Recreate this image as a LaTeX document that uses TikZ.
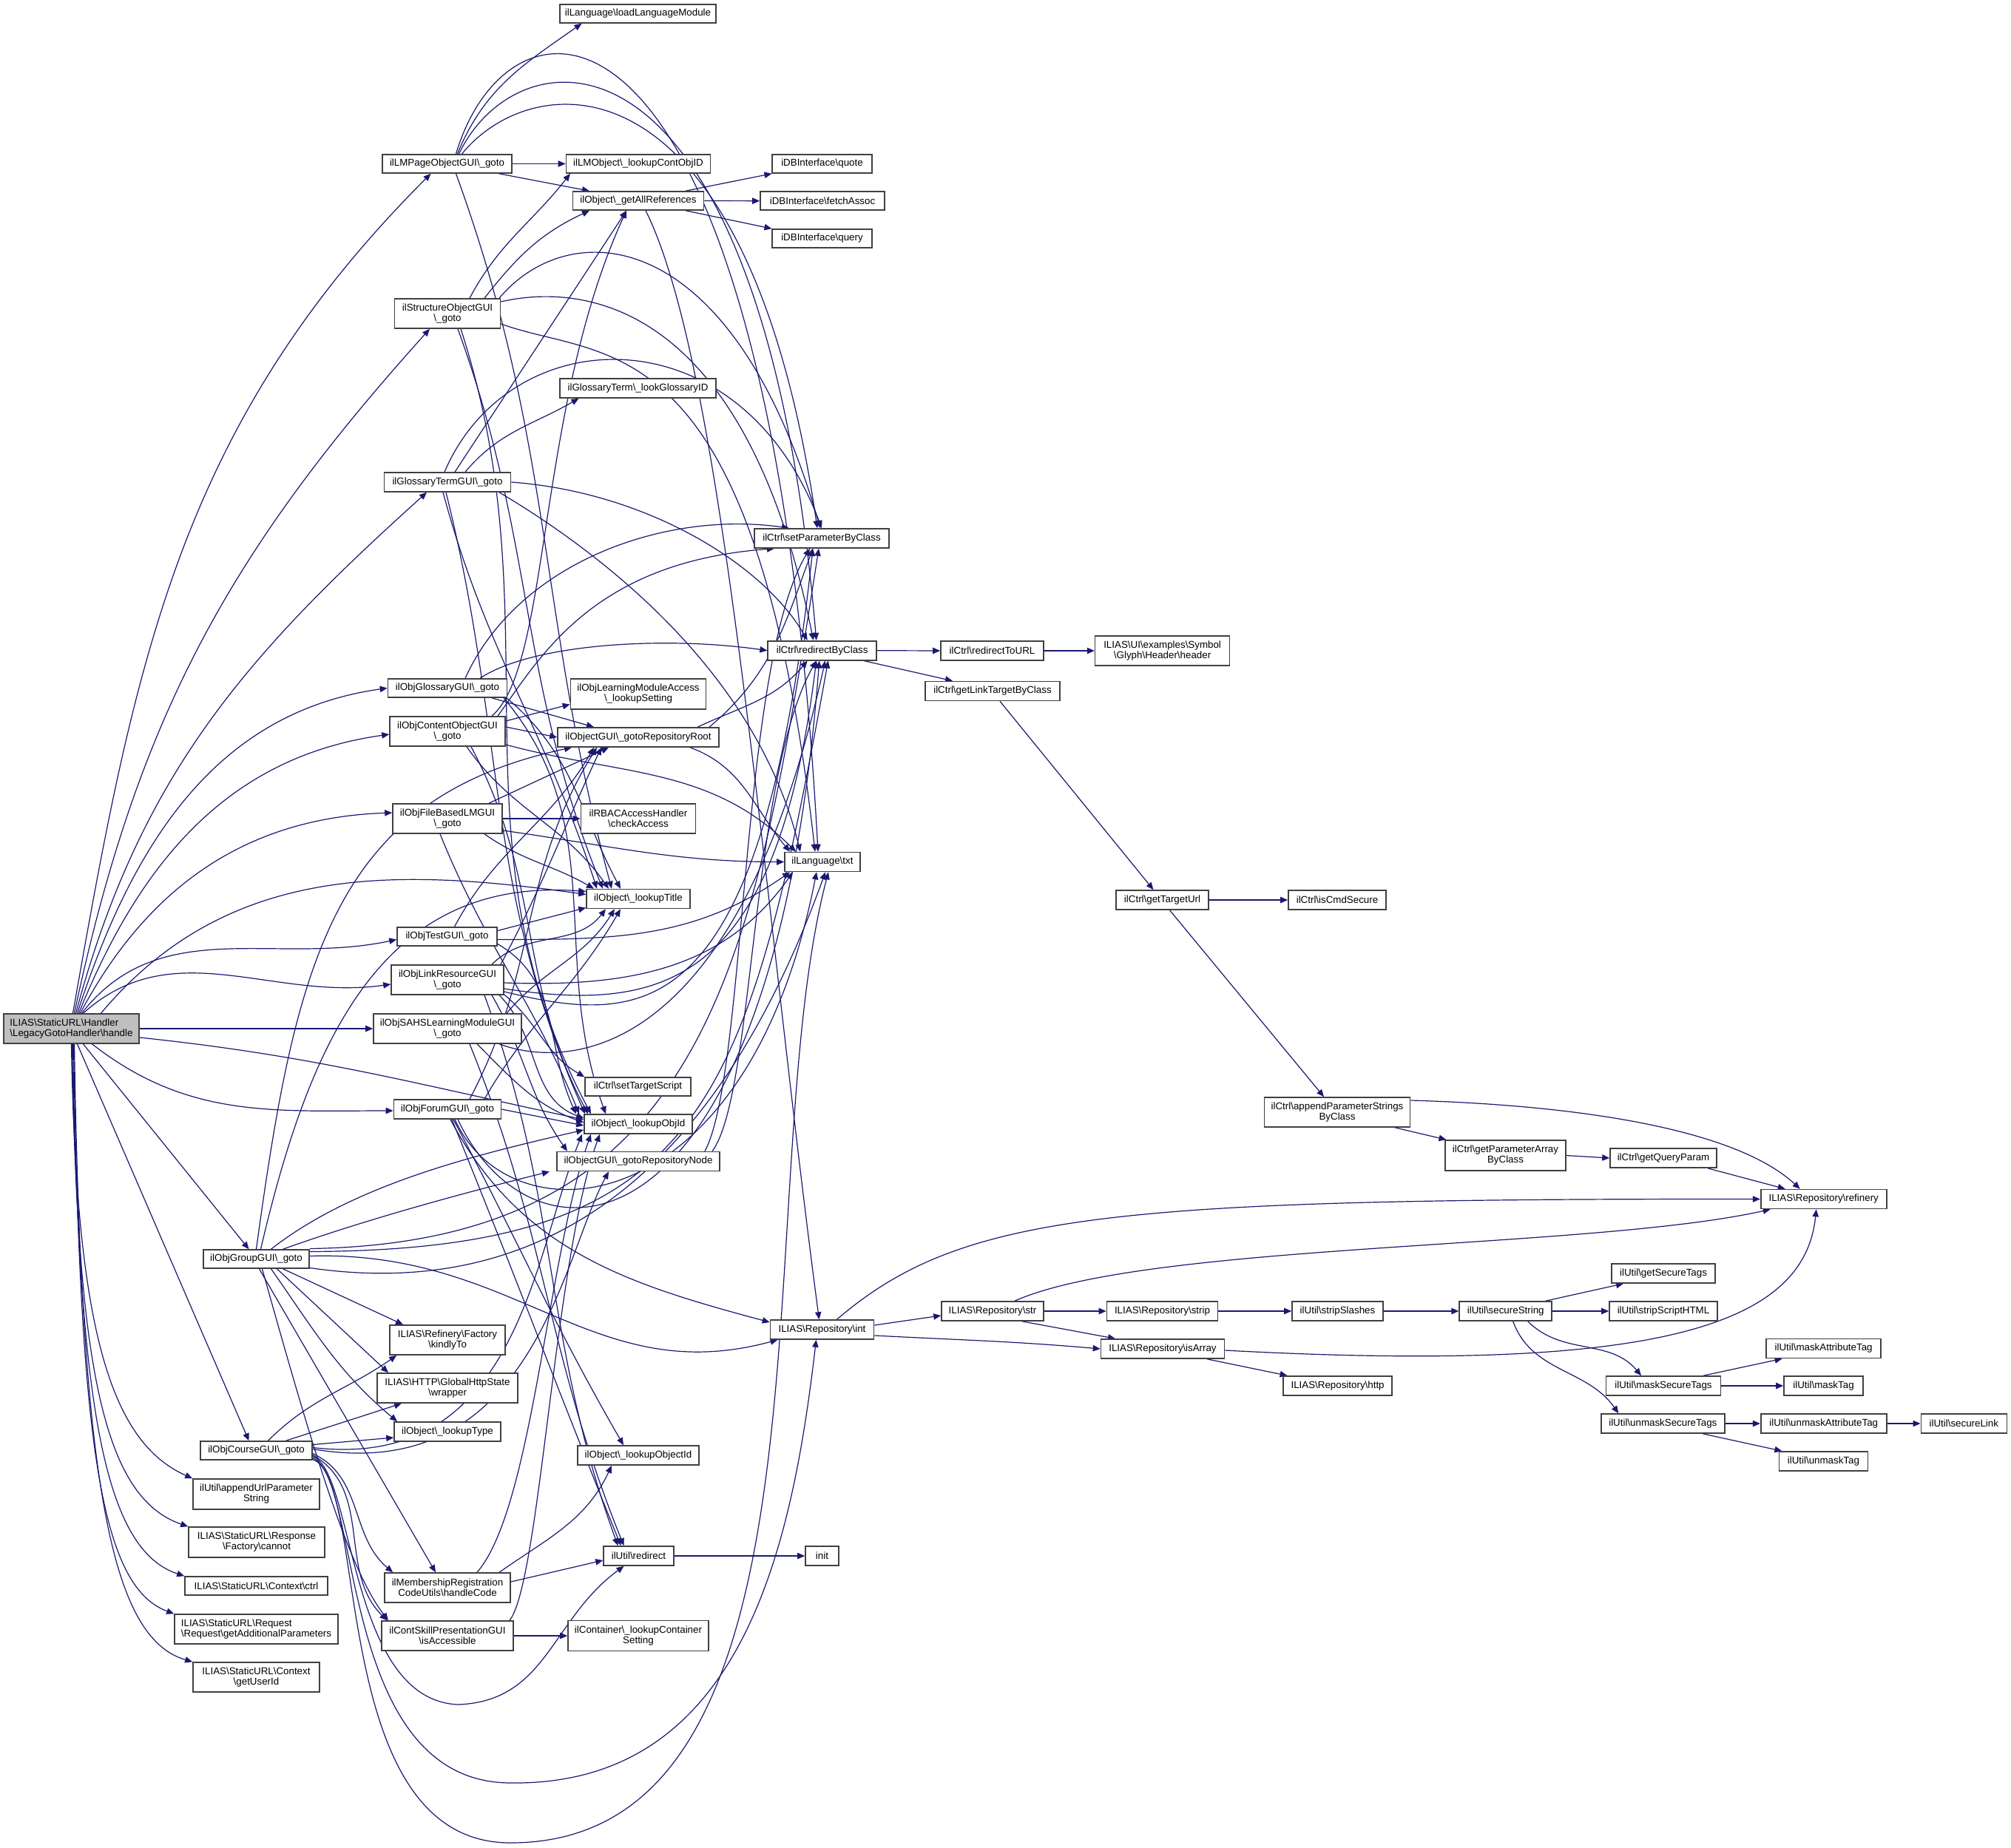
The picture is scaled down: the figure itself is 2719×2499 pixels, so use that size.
\documentclass[tikz,border=0pt]{standalone}
\usepackage{fontspec}
\newfontfamily\dfont{Liberation Sans}
\usetikzlibrary{arrows.meta}
\definecolor{edgeblue}{HTML}{191970}
\newcommand{\bs}{\textbackslash}
\pgfdeclarelayer{bg}
\pgfsetlayers{bg,main}
\tikzset{
  nd/.style 2 args={draw=black!75, line width=0.8pt, fill=white, minimum width=#1*0.5pt, minimum height=#2*0.5pt, inner sep=0pt, font=\dfont\fontsize{6.67}{7}\selectfont, align=center},
  e/.style={draw=edgeblue, line width=0.6pt, -{Triangle[length=5pt,width=4.2pt]}},
}
\begin{document}
\begin{tikzpicture}[x=0.5pt,y=-0.5pt]
\useasboundingbox (0,0) rectangle (2719,2499);
% ---------- nodes ----------
\node[nd={183}{40}, fill=gray!50, align=left] (h) at (96.5,1391) {ILIAS\bs StaticURL\bs Handler\\\bs LegacyGotoHandler\bs handle};
\node[nd={175}{25}] (lmp) at (604.5,221.5) {ilLMPageObjectGUI\bs\_goto};
\node[nd={143}{40}] (sog) at (605,424) {ilStructureObjectGUI\\\bs\_goto};
\node[nd={171}{26}] (gtg) at (605,652) {ilGlossaryTermGUI\bs\_goto};
\node[nd={161}{25}] (ogg) at (605,930.5) {ilObjGlossaryGUI\bs\_goto};
\node[nd={156}{40}] (cog) at (605,989) {ilObjContentObjectGUI\\\bs\_goto};
\node[nd={148}{40}] (fbg) at (605,1107) {ilObjFileBasedLMGUI\\\bs\_goto};
\node[nd={135}{25}] (tst) at (604.5,1266.5) {ilObjTestGUI\bs\_goto};
\node[nd={152}{40}] (lrg) at (605,1325) {ilObjLinkResourceGUI\\\bs\_goto};
\node[nd={200}{40}] (sah) at (605,1391) {ilObjSAHSLearningModuleGUI\\\bs\_goto};
\node[nd={145}{26}] (frm) at (605,1500) {ilObjForumGUI\bs\_goto};
\node[nd={156}{40}] (kin) at (605,1812) {ILIAS\bs Refinery\bs Factory\\\bs kindlyTo};
\node[nd={190}{40}] (wrp) at (605,1877) {ILIAS\bs HTTP\bs GlobalHttpState\\\bs wrapper};
\node[nd={144}{26}] (lty) at (605,1936) {ilObject\bs\_lookupType};
\node[nd={170}{40}] (hcd) at (605,2147) {ilMembershipRegistration\\CodeUtils\bs handleCode};
\node[nd={178}{40}] (csp) at (605,2212) {ilContSkillPresentationGUI\\\bs isAccessible};
\node[nd={143}{25}] (grp) at (346.5,1702.5) {ilObjGroupGUI\bs\_goto};
\node[nd={151}{25}] (crs) at (346.5,1961.5) {ilObjCourseGUI\bs\_goto};
\node[nd={171}{41}] (aup) at (346.5,2020.5) {ilUtil\bs appendUrlParameter\\String};
\node[nd={184}{41}] (cnt) at (347,2085.5) {ILIAS\bs StaticURL\bs Response\\\bs Factory\bs cannot};
\node[nd={193}{25}] (ctl) at (346.5,2144.5) {ILIAS\bs StaticURL\bs Context\bs ctrl};
\node[nd={221}{40}, align=left] (rqa) at (346.5,2203) {ILIAS\bs StaticURL\bs Request\\\bs Request\bs getAdditionalParameters};
\node[nd={171}{40}] (uid) at (346.5,2268) {ILIAS\bs StaticURL\bs Context\\\bs getUserId};
\node[nd={211}{25}] (llm) at (862.5,18.5) {ilLanguage\bs loadLanguageModule};
\node[nd={195}{25}] (lco) at (863,221.5) {ilLMObject\bs\_lookupContObjID};
\node[nd={177}{25}] (gar) at (863,271.5) {ilObject\bs\_getAllReferences};
\node[nd={211}{26}] (lgi) at (862.5,525) {ilGlossaryTerm\bs\_lookGlossaryID};
\node[nd={183}{41}] (lms) at (863,938.5) {ilObjLearningModuleAccess\\\bs\_lookupSetting};
\node[nd={218}{26}] (grr) at (863,997) {ilObjectGUI\bs\_gotoRepositoryRoot};
\node[nd={155}{40}] (rba) at (863,1107) {ilRBACAccessHandler\\\bs checkAccess};
\node[nd={140}{26}] (ltt) at (863,1215.5) {ilObject\bs\_lookupTitle};
\node[nd={143}{25}] (sts) at (862.5,1469.5) {ilCtrl\bs setTargetScript};
\node[nd={146}{26}] (loi) at (863,1520) {ilObject\bs\_lookupObjId};
\node[nd={220}{26}] (grn) at (863,1570.5) {ilObjectGUI\bs\_gotoRepositoryNode};
\node[nd={164}{26}] (lob) at (863,1968) {ilObject\bs\_lookupObjectId};
\node[nd={95}{26}] (rdr) at (863.5,2104) {ilUtil\bs redirect};
\node[nd={190}{41}] (lcs) at (863,2212) {ilContainer\bs\_lookupContainer\\Setting};
\node[nd={135}{25}] (quo) at (1111.5,221.5) {iDBInterface\bs quote};
\node[nd={168}{25}] (fas) at (1112,271.7) {iDBInterface\bs fetchAssoc};
\node[nd={135}{25}] (qry) at (1111.5,322.5) {iDBInterface\bs query};
\node[nd={182}{26}] (spc) at (1111,728) {ilCtrl\bs setParameterByClass};
\node[nd={147}{26}] (rbc) at (1111.7,879.7) {ilCtrl\bs redirectByClass};
\node[nd={102}{26}] (txt) at (1112,1165.5) {ilLanguage\bs txt};
\node[nd={140}{26}] (int) at (1111.5,1798) {ILIAS\bs Repository\bs int};
\node[nd={45}{26}] (ini) at (1111.5,2104) {init};
\node[nd={139}{26}] (rtu) at (1341.5,880) {ilCtrl\bs redirectToURL};
\node[nd={182}{26}] (glt) at (1342,934.5) {ilCtrl\bs getLinkTargetByClass};
\node[nd={138}{26}] (str) at (1342,1773) {ILIAS\bs Repository\bs str};
\node[nd={182}{40}] (hdr) at (1571.6,880) {ILIAS\bs UI\bs examples\bs Symbol\\\bs Glyph\bs Header\bs header};
\node[nd={125}{26}] (gtu) at (1571.5,1217) {ilCtrl\bs getTargetUrl};
\node[nd={150}{26}] (stp) at (1571.5,1773) {ILIAS\bs Repository\bs strip};
\node[nd={167}{26}] (isa) at (1572,1824) {ILIAS\bs Repository\bs isArray};
\node[nd={132}{26}] (ics) at (1808,1217) {ilCtrl\bs isCmdSecure};
\node[nd={197}{40}] (aps) at (1808,1504) {ilCtrl\bs appendParameterStrings\\ByClass};
\node[nd={123}{26}] (ssl) at (1808.5,1773) {ilUtil\bs stripSlashes};
\node[nd={147}{26}] (htp) at (1808.6,1874) {ILIAS\bs Repository\bs http};
\node[nd={163}{41}] (gpa) at (2035.5,1562.5) {ilCtrl\bs getParameterArray\\ByClass};
\node[nd={125}{26}] (sst) at (2035.7,1773) {ilUtil\bs secureString};
\node[nd={144}{26}] (gqp) at (2249,1566) {ilCtrl\bs getQueryParam};
\node[nd={140}{26}] (gst) at (2249,1722) {ilUtil\bs getSecureTags};
\node[nd={146}{26}] (ssh) at (2249,1773) {ilUtil\bs stripScriptHTML};
\node[nd={155}{26}] (mst) at (2249,1874) {ilUtil\bs maskSecureTags};
\node[nd={167}{26}] (ust) at (2248.3,1925) {ilUtil\bs unmaskSecureTags};
\node[nd={170}{26}] (ref) at (2465.7,1621.5) {ILIAS\bs Repository\bs refinery};
\node[nd={155}{26}] (mat) at (2465.6,1823.5) {ilUtil\bs maskAttributeTag};
\node[nd={107}{26}] (mtg) at (2465.5,1874) {ilUtil\bs maskTag};
\node[nd={170}{26}] (uat) at (2465.7,1925) {ilUtil\bs unmaskAttributeTag};
\node[nd={120}{26}] (utg) at (2465.4,1976) {ilUtil\bs unmaskTag};
\node[nd={116}{26}] (slk) at (2655.3,1925) {ilUtil\bs secureLink};
% ---------- edges ----------
\begin{pgfonlayer}{bg}
\fill[white] (0,0) rectangle (2719,2499);
% handle
\draw[e] ([xshift=1pt]h.north) to[out=80,in=225] ([xshift=-11pt]lmp.south);
\draw[e] ([xshift=2pt]h.north) to[out=78,in=228] ([xshift=-12pt]sog.south);
\draw[e] ([xshift=3pt]h.north) to[out=75,in=222] ([xshift=-14pt]gtg.south);
\draw[e] ([xshift=4pt]h.north) to[out=72,in=188] (ogg.west);
\draw[e] ([xshift=5pt]h.north) to[out=68,in=188] ([yshift=-2pt]cog.west);
\draw[e] ([xshift=6pt]h.north) to[out=62,in=182] ([yshift=4pt]fbg.west);
\draw[e] ([xshift=7pt]h.north) to[out=52,in=192] ([yshift=-2pt]tst.west);
\draw[e] ([xshift=8pt]h.north) to[out=42,in=188] ([yshift=-3pt]lrg.west);
\draw[e] ([xshift=20pt]h.north) to[out=50,in=172] ([yshift=3pt]ltt.west);
\draw[e] (h.east) -- (sah.west);
\draw[e] ([yshift=-6pt]h.east) to[out=-6,in=168] ([yshift=3pt]loi.west);
\draw[e] ([xshift=14pt]h.south) to[out=-38,in=180] ([yshift=-1pt]frm.west);
\draw[e] ([xshift=8pt]h.south) -- ([xshift=-5pt]grp.north);
\draw[e] ([xshift=4pt]h.south) -- ([xshift=-5pt]crs.north);
\draw[e] ([xshift=0pt]h.south) .. controls (103,1800) and (150,1950) .. (aup.north west);
\draw[e] ([xshift=0.5pt]h.south) .. controls (104,1850) and (140,2025) .. (cnt.north west);
\draw[e] ([xshift=1pt]h.south) .. controls (106,1900) and (140,2095) .. (ctl.north west);
\draw[e] ([xshift=1.5pt]h.south) .. controls (108,1950) and (135,2145) .. (rqa.north west);
\draw[e] ([xshift=2pt]h.south) .. controls (110,2010) and (150,2215) .. (uid.north west);
% LMPage
\draw[e] ([xshift=7pt]lmp.north) to[out=68,in=215] ([xshift=-38pt]llm.south);
\draw[e] (lmp.east) -- (lco.west);
\draw[e] ([xshift=35pt]lmp.south) -- ([xshift=-33pt]gar.north);
\draw[e] ([xshift=10pt]lmp.north) .. controls (720,90) and (1010,60) .. ([xshift=-3pt]spc.north);
\draw[e] ([xshift=8pt]lmp.north) .. controls (700,40) and (1030,0) .. ([xshift=-4pt]rbc.north);
\draw[e] ([xshift=6pt]lmp.north) .. controls (690,-40) and (1040,-60) .. ([xshift=-3pt]txt.north);
\draw[e] ([xshift=6pt]lmp.south) to[out=-70,in=105] ([xshift=-18pt]ltt.north);
% Structure
\draw[e] ([xshift=15pt]sog.north) to[out=62,in=232] ([xshift=-46pt]lco.south);
\draw[e] ([xshift=25pt]sog.north) to[out=52,in=205] ([xshift=-33pt]gar.south);
\draw[e] ([xshift=35pt]sog.north) .. controls (770,290) and (990,300) .. ([xshift=-1pt]spc.north);
\draw[e] ([yshift=8pt]sog.east) .. controls (800,380) and (1010,420) .. ([xshift=-6pt]rbc.north);
\draw[e] ([yshift=-7pt]sog.east) .. controls (820,490) and (1020,430) .. ([xshift=-5pt]txt.north);
\draw[e] ([xshift=7pt]sog.south) to[out=-70,in=112] ([xshift=-24pt]ltt.north);
\draw[e] ([xshift=9pt]sog.south) to[out=-72,in=118] ([xshift=-32pt]loi.north);
% GlossaryTerm
\draw[e] ([xshift=12pt]gtg.north) to[out=50,in=210] ([xshift=-40pt]lgi.south);
\draw[e] ([xshift=5pt]gtg.north) -- ([xshift=-8pt]gar.south);
\draw[e] ([xshift=-2pt]gtg.north) .. controls (690,430) and (1000,420) .. (spc.north);
\draw[e] (gtg.east) .. controls (870,665) and (1030,760) .. ([xshift=-10pt]rbc.north);
\draw[e] ([xshift=35pt]gtg.south) .. controls (800,740) and (1020,900) .. ([xshift=-15pt]txt.north);
\draw[e] ([xshift=-3pt]gtg.south) to[out=-75,in=108] ([xshift=-28pt]ltt.north);
\draw[e] ([xshift=-1pt]gtg.south) to[out=-76,in=114] ([xshift=-36pt]loi.north);
% ObjGlossary
\draw[e] ([xshift=12pt]ogg.north) .. controls (700,760) and (900,690) .. ([xshift=-22pt]spc.north);
\draw[e] ([xshift=22pt]ogg.north) .. controls (720,870) and (900,860) .. (rbc.west);
\draw[e] ([xshift=30pt]ogg.south) -- ([xshift=-30pt]grr.north);
\draw[e] ([xshift=40pt]ogg.south) to[out=-40,in=118] ([xshift=-12pt]ltt.north);
\draw[e] ([xshift=38pt]ogg.south) to[out=-50,in=110] ([xshift=-22pt]loi.north);
% ContentObject
\draw[e] ([yshift=7pt]cog.east) -- ([yshift=-7pt]lms.west);
\draw[e] ([yshift=3pt]cog.east) -- (grr.west);
\draw[e] ([yshift=-9pt]cog.east) to[out=-15,in=135] ([xshift=-18pt]txt.north);
\draw[e] ([xshift=30pt]cog.north) .. controls (745,900) and (725,550) .. ([xshift=-8pt]gar.south);
\draw[e] ([xshift=34pt]cog.north) .. controls (730,890) and (800,760) .. ([xshift=-32pt]spc.south);
\draw[e] ([xshift=13pt]cog.south) to[out=-55,in=125] ([xshift=-20pt]ltt.north);
\draw[e] ([xshift=16pt]cog.south) to[out=-62,in=118] ([xshift=-34pt]loi.north);
% FileBasedLM
\draw[e] (fbg.east) -- (rba.west);
\draw[e] ([xshift=28pt]fbg.north) -- ([xshift=-20pt]grr.south);
\draw[e] ([yshift=-8pt]fbg.east) to[out=-8,in=180] (txt.west);
\draw[e] ([xshift=25pt]fbg.south) to[out=-35,in=150] ([xshift=-30pt]ltt.north);
\draw[e] ([xshift=-5pt]fbg.south) to[out=-68,in=112] ([xshift=-40pt]loi.north);
% Test
\draw[e] ([yshift=4pt]tst.east) -- ([yshift=-6pt]ltt.west);
\draw[e] ([yshift=-2pt]tst.east) to[out=0,in=-145] ([xshift=-22pt]txt.south);
\draw[e] ([xshift=5pt]tst.north) to[out=62,in=240] ([xshift=-30pt]grr.south);
\draw[e] ([yshift=-5pt]tst.east) to[out=-30,in=115] ([xshift=-42pt]loi.north);
% LinkResource
\draw[e] ([xshift=30pt]lrg.north) to[out=45,in=232] ([xshift=-22pt]ltt.south);
\draw[e] ([xshift=36pt]lrg.north) to[out=62,in=245] ([xshift=-25pt]grr.south);
\draw[e] ([yshift=-2pt]lrg.east) to[out=-2,in=-125] ([xshift=-20pt]txt.south);
\draw[e] ([yshift=-6pt]lrg.east) .. controls (900,1370) and (1050,1330) .. ([xshift=-4pt]rbc.south);
\draw[e] ([yshift=-8pt]lrg.east) .. controls (880,1390) and (1030,1380) .. ([xshift=-6pt]spc.south);
\draw[e] ([yshift=-10pt]lrg.east) to[out=-40,in=150] (sts.north west);
\draw[e] ([xshift=35pt]lrg.south) to[out=-45,in=160] ([yshift=4pt]loi.west);
\draw[e] ([xshift=30pt]lrg.south) to[out=-60,in=125] ([xshift=-48pt]grn.north);
\draw[e] ([xshift=25pt]lrg.south) to[out=-70,in=110] ([xshift=-14pt]rdr.north);
% SAHS
\draw[e] ([xshift=40pt]sah.north) to[out=50,in=238] ([xshift=-16pt]ltt.south);
\draw[e] ([xshift=20pt]sah.south) to[out=-45,in=160] ([yshift=1pt]loi.west);
\draw[e] ([xshift=35pt]sah.south) .. controls (780,1450) and (1000,1420) .. ([xshift=2pt]rbc.south);
\draw[e] ([xshift=15pt]sah.south) to[out=-68,in=112] ([xshift=-10pt]rdr.north);
% Forum
\draw[e] (frm.east) -- ([yshift=-1pt]loi.west);
\draw[e] ([xshift=15pt]frm.north) to[out=62,in=238] ([xshift=-28pt]grr.south);
\draw[e] ([xshift=25pt]frm.north) to[out=60,in=240] ([xshift=-12pt]ltt.south);
\draw[e] ([xshift=5pt]frm.south) .. controls (690,1680) and (1010,1660) .. ([xshift=-4pt]txt.south);
\draw[e] ([xshift=7pt]frm.south) .. controls (720,1730) and (1045,1720) .. ([xshift=-2pt]rbc.south);
\draw[e] ([xshift=2pt]frm.south) to[out=-62,in=165] ([yshift=5pt]int.west);
\draw[e] ([xshift=3pt]frm.south) to[out=-68,in=112] ([xshift=-12pt]rdr.north);
\draw[e] ([xshift=4pt]frm.south) to[out=-62,in=120] ([xshift=-10pt]lob.north);
% Group
\draw[e] ([xshift=18pt]grp.south) -- ([xshift=-30pt]kin.north);
\draw[e] ([xshift=14pt]grp.south) -- ([xshift=-40pt]wrp.north);
\draw[e] ([xshift=10pt]grp.south) to[out=-55,in=140] ([xshift=-34pt]lty.north);
\draw[e] ([xshift=2pt]grp.south) -- ([xshift=-8pt]hcd.north);
\draw[e] ([xshift=4pt]grp.south) .. controls (420,1950) and (470,2120) .. ([xshift=-40pt]csp.north);
\draw[e] (grp.north) .. controls (400,1300) and (450,1080) .. ([xshift=-45pt]grr.south);
\draw[e] ([xshift=3pt]grp.north) .. controls (420,1400) and (520,1185) .. ([yshift=5pt]ltt.west);
\draw[e] ([xshift=10pt]grp.north) .. controls (480,1600) and (650,1560) .. ([yshift=-4pt]loi.west);
\draw[e] ([xshift=18pt]grp.north) .. controls (520,1640) and (680,1600) .. ([xshift=-60pt]grn.south);
\draw[e] ([yshift=2pt]grp.east) .. controls (700,1690) and (800,1880) .. ([xshift=-30pt]int.south);
\draw[e] ([yshift=5pt]grp.east) .. controls (950,1690) and (1010,1500) .. ([xshift=4pt]rbc.south);
\draw[e] ([yshift=7pt]grp.east) .. controls (960,1680) and (1020,1300) .. ([xshift=-2pt]spc.south);
\draw[e] ([yshift=-6pt]grp.east) .. controls (800,1770) and (1000,1500) .. ([xshift=2pt]txt.south);
% Course
\draw[e] ([xshift=8pt]crs.north) to[out=45,in=215] ([xshift=5pt]kin.south west);
\draw[e] ([xshift=20pt]crs.north) -- ([xshift=-31pt]wrp.south);
\draw[e] ([yshift=4pt]crs.east) -- ([yshift=-4pt]lty.west);
\draw[e] ([yshift=-2pt]crs.east) to[out=-25,in=140] ([xshift=6pt]hcd.north west);
\draw[e] ([yshift=-3pt]crs.east) to[out=-30,in=135] ([xshift=4pt]csp.north west);
\draw[e] ([yshift=-4pt]crs.east) .. controls (480,1990) and (470,2300) .. (620,2305) .. controls (740,2300) and (745,2190) .. ([xshift=-10pt]rdr.south);
\draw[e] ([yshift=-5pt]crs.east) .. controls (490,2000) and (455,2410) .. (690,2411) .. controls (1000,2415) and (1070,2100) .. ([xshift=-4pt]int.south);
\draw[e] ([yshift=-6pt]crs.east) .. controls (500,2000) and (440,2492) .. (690,2492) .. controls (1150,2492) and (1010,1600) .. ([xshift=4pt]txt.south);
\draw[e] ([yshift=2pt]crs.east) .. controls (700,1990) and (720,1700) .. ([xshift=-38pt]loi.south);
\draw[e] ([yshift=1pt]crs.east) .. controls (720,2010) and (760,1700) .. ([xshift=-20pt]grn.south);
% handleCode / ContSkill
\draw[e] ([yshift=4pt]hcd.east) -- ([yshift=-3pt]rdr.west);
\draw[e] ([xshift=35pt]hcd.north) to[out=35,in=-115] ([xshift=-18pt]lob.south);
\draw[e] ([xshift=20pt]hcd.north) .. controls (720,2040) and (740,1700) .. ([xshift=-32pt]loi.south);
\draw[e] (csp.east) -- (lcs.west);
\draw[e] ([xshift=42pt]csp.north) .. controls (730,2140) and (750,1700) .. ([xshift=-26pt]loi.south);
% gotoRepositoryRoot / Node
\draw[e] ([xshift=48pt]grr.north) to[out=40,in=-110] ([xshift=-6pt]spc.south);
\draw[e] ([xshift=40pt]grr.north) to[out=25,in=-130] ([xshift=-10pt]rbc.south);
\draw[e] ([xshift=35pt]grr.south) to[out=-20,in=130] ([xshift=-22pt]txt.north);
\draw[e] ([xshift=45pt]grn.north) .. controls (1010,1450) and (1000,900) .. ([xshift=-8pt]spc.south);
\draw[e] ([xshift=50pt]grn.north) .. controls (1020,1480) and (1015,1050) .. ([xshift=-4pt]rbc.south);
% getAllReferences
\draw[e] ([xshift=32pt]gar.north) -- ([xshift=-34pt]quo.south);
\draw[e] (gar.east) -- (fas.west);
\draw[e] ([xshift=32pt]gar.south) -- ([xshift=-34pt]qry.north);
\draw[e] ([xshift=5pt]gar.south) .. controls (980,500) and (1030,1200) .. ([xshift=-2pt]int.north);
% ilCtrl chain
\draw[e] (rbc.east) -- (rtu.west);
\draw[e] ([xshift=28pt]rbc.south) -- ([xshift=-27pt]glt.north);
\draw[e] (rtu.east) -- (hdr.west);
\draw[e] ([xshift=5pt]glt.south) -- ([xshift=-6pt]gtu.north);
\draw[e] (gtu.east) -- (ics.west);
\draw[e] ([xshift=5pt]gtu.south) -- ([xshift=-9pt]aps.north);
\draw[e] ([xshift=39pt]aps.south) -- ([xshift=-40pt]gpa.north);
\draw[e] ([yshift=8pt]aps.east) .. controls (2150,1495) and (2350,1530) .. ([xshift=-16pt]ref.north);
\draw[e] (gpa.east) -- (gqp.west);
\draw[e] ([xshift=30pt]gqp.south) -- ([xshift=-26pt]ref.north);
% Repository
\draw[e] ([xshift=10pt]int.north) .. controls (1300,1640) and (1500,1621) .. (ref.west);
\draw[e] ([yshift=3pt]int.east) -- ([yshift=-3pt]str.west);
\draw[e] ([yshift=-4pt]int.east) to[out=-3,in=175] (isa.west);
\draw[e] ([xshift=15pt]str.north) .. controls (1550,1680) and (2150,1690) .. ([xshift=-36pt]ref.south);
\draw[e] (str.east) -- (stp.west);
\draw[e] ([xshift=20pt]str.south) -- ([xshift=-32pt]isa.north);
\draw[e] (stp.east) -- (ssl.west);
\draw[e] (ssl.east) -- (sst.west);
\draw[e] ([xshift=27pt]sst.north) -- ([xshift=-27pt]gst.south);
\draw[e] (sst.east) -- (ssh.west);
\draw[e] ([xshift=15pt]sst.south) to[out=-45,in=130] ([xshift=-15pt]mst.north);
\draw[e] ([xshift=5pt]sst.south) to[out=-70,in=125] ([xshift=-30pt]ust.north);
\draw[e] ([xshift=27pt]mst.north) -- ([xshift=-28pt]mat.south);
\draw[e] (mst.east) -- (mtg.west);
\draw[e] (ust.east) -- (uat.west);
\draw[e] ([xshift=27pt]ust.south) -- ([xshift=-28pt]utg.north);
\draw[e] (uat.east) -- (slk.west);
\draw[e] ([yshift=-1pt]isa.east) .. controls (2250,1858) and (2440,1790) .. ([xshift=-5pt]ref.south);
\draw[e] ([xshift=30pt]isa.south) -- ([xshift=-34pt]htp.north);
\draw[e] (rdr.east) -- (ini.west);
\end{pgfonlayer}
\end{tikzpicture}
\end{document}
